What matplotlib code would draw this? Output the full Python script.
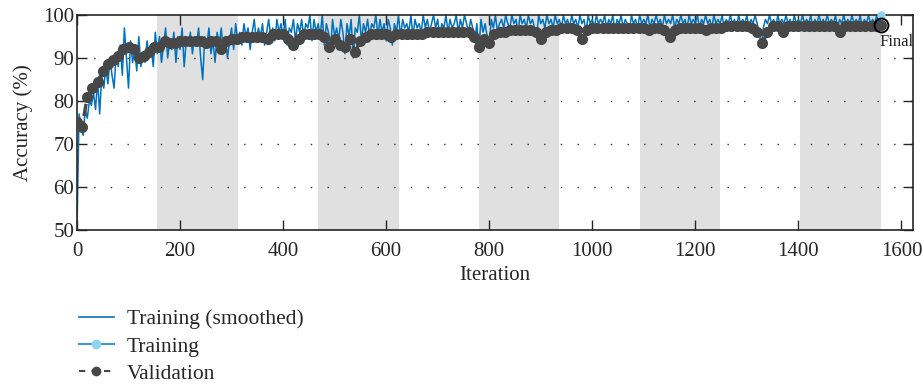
import numpy as np
import matplotlib
matplotlib.use("Agg")
import matplotlib.pyplot as plt
from matplotlib.lines import Line2D

plt.rcParams['font.family'] = ['Liberation Serif', 'DejaVu Serif']

# training accuracy, every 4 iterations (0..1560)
train_step = 4
train_acc = [
    50, 77, 74, 72, 78, 76, 80, 79, 82, 78,
    85, 77, 86, 83, 88, 84, 90, 86, 83, 91,
    88, 93, 86, 97, 90, 83, 94, 89, 92, 87,
    95, 88, 91, 89, 94, 90, 93, 88, 96, 91,
    95, 89, 93, 97, 90, 94, 92, 96, 89, 95,
    92, 97, 88, 94, 93, 96, 91, 95, 93, 97,
    90, 85, 95, 93, 97, 91, 94, 89, 96, 93,
    97, 91, 95, 90, 94, 97, 92, 98, 94, 96,
    93, 98, 95, 97, 92, 96, 99, 94, 97, 95,
    98, 93, 96, 99, 95, 97, 94, 99, 96, 98,
    95, 99, 93, 97, 96, 99, 94, 98, 96, 99,
    95, 98, 97, 100, 94, 99, 96, 98, 95, 100,
    93, 98, 96, 92, 99, 95, 97, 94, 99, 96,
    91, 98, 95, 99, 90, 97, 96, 100, 94, 98,
    96, 99, 95, 98, 97, 100, 95, 99, 96, 98,
    94, 99, 97, 93, 98, 96, 100, 95, 99, 97,
    98, 96, 100, 95, 99, 97, 98, 96, 100, 97,
    99, 96, 98, 100, 97, 99, 95, 98, 97, 100,
    96, 99, 97, 98, 100, 96, 99, 97, 100, 98,
    96, 99, 97, 94, 98, 92, 99, 96, 98, 95,
    93, 99, 97, 100, 96, 98, 99, 97, 100, 98,
    97, 100, 98, 99, 96, 100, 98, 99, 97, 100,
    98, 99, 97, 95, 100, 98, 99, 97, 100, 98,
    99, 97, 100, 98, 99, 97, 100, 98, 99, 97,
    100, 98, 99, 97, 100, 98, 99, 96, 100, 98,
    99, 97, 100, 98, 99, 98, 100, 97, 99, 98,
    100, 96, 99, 98, 100, 97, 99, 98, 96, 100,
    98, 99, 97, 100, 98, 99, 98, 100, 97, 99,
    98, 100, 98, 99, 97, 100, 98, 99, 98, 100,
    97, 99, 98, 100, 98, 99, 97, 100, 98, 99,
    98, 100, 97, 99, 98, 100, 98, 99, 97, 100,
    98, 99, 98, 100, 97, 99, 98, 100, 98, 99,
    97, 100, 98, 99, 98, 100, 97, 99, 98, 100,
    98, 96, 93, 97, 99, 98, 100, 98, 99, 97,
    100, 98, 99, 98, 100, 98, 99, 97, 100, 98,
    99, 98, 100, 98, 99, 98, 100, 97, 99, 98,
    100, 98, 99, 98, 100, 98, 99, 98, 100, 97,
    99, 98, 100, 98, 99, 98, 100, 98, 99, 98,
    100, 97, 99, 98, 100, 98, 99, 98, 100, 98,
    100,
]

# validation accuracy, every 10 iterations (0..1560)
val_step = 10
val_acc = [
    75, 74, 81, 83, 84.5, 87, 88.5, 89.5, 90.5, 92,
    92.5, 92, 90, 90.5, 91.5, 92.5, 92.5, 94, 93.5, 93.5,
    94, 94, 94, 94, 94, 93.5, 94, 94, 92, 94,
    94.5, 94.5, 95, 95, 95, 95, 95, 94.5, 95.5, 95.5,
    95.5, 94.5, 93, 94.5, 95.5, 95.5, 95.5, 95.5, 95, 92.5,
    94.5, 93, 92.5, 94.5, 91.5, 94, 95, 95.5, 95.5, 95.5,
    95.5, 95, 95.5, 95.5, 95.5, 95.5, 95.5, 95.5, 96, 96,
    96, 96, 96, 96, 96, 96, 96, 95, 92.5, 94.5,
    93.5, 95.5, 96, 96, 96.5, 96.5, 96.5, 96.5, 96.5, 96,
    94.5, 96, 96.5, 96.5, 97, 97, 97, 96.5, 94.5, 96.5,
    97, 97, 97, 97, 97, 97, 97, 97, 97, 97,
    97, 96.5, 97, 97, 96.5, 95, 96.5, 97, 97, 97,
    97, 97, 96.5, 97, 97, 97, 97.5, 97.5, 97.5, 97.5,
    97.5, 97, 96, 93.5, 96, 97.5, 97.5, 96, 97.5, 97.5,
    97.5, 97.5, 97.5, 97.5, 97.5, 97.5, 97.5, 97.5, 96, 97.5,
    97.5, 97.5, 97.5, 97.5, 97.5, 97.5, 97.7,
]

iters_per_epoch = 156
n_epochs = 10

train_x = np.arange(len(train_acc)) * train_step
val_x = np.arange(len(val_acc)) * val_step

blue = '#0072BD'
light_blue = '#8ED3F0'
dark = '#474747'
txt = '#262626'

fig = plt.figure(figsize=(9.22, 3.87), dpi=100)
ax = fig.add_axes([0.0835, 0.406, 0.9065, 0.555])

# alternate epochs shaded
for k in range(1, n_epochs, 2):
    ax.axvspan(k * iters_per_epoch, (k + 1) * iters_per_epoch, color='#E0E0E0', lw=0, zorder=0)

for yv in [60, 70, 80, 90]:
    ax.axhline(yv, color='#333333', lw=1.0, ls=(0, (1, 11)), zorder=1)

ax.plot(train_x, train_acc, color=blue, lw=1.1, zorder=2)
ax.plot(val_x, val_acc, color=dark, lw=2.4, ls='--', marker='o', ms=8,
        markeredgewidth=0, zorder=3)

# final points
ax.plot(train_x[-1], train_acc[-1], 'o', color=light_blue, ms=6, mec='none', zorder=4, clip_on=False)
ax.plot(val_x[-1], val_acc[-1], 'o', mfc='none', mec='black', ms=10, mew=1.4, zorder=5)
ax.text(val_x[-1] - 3, 93.8, 'Final', fontsize=12, color=txt, ha='left', va='center')

ax.set_xlim(0, 1622)
ax.set_ylim(50, 100)
ax.set_xticks(np.arange(0, 1601, 200))
ax.set_yticks(np.arange(50, 101, 10))
ax.tick_params(direction='in', length=7, width=1, top=True, right=True,
               labelsize=15, colors=txt)
ax.tick_params(axis='x', pad=9)
ax.tick_params(axis='y', pad=2)
for s in ax.spines.values():
    s.set_color(txt)
    s.set_linewidth(1.2)
ax.set_xlabel('Iteration', fontsize=15, color=txt, labelpad=3)
ax.set_ylabel('Accuracy (%)', fontsize=15, color=txt, labelpad=7)

handles = [
    Line2D([], [], color=blue, lw=1.2),
    Line2D([], [], color='#3A9AD9', lw=1.5, marker='o', ms=7, mfc=light_blue, mec='none'),
    Line2D([], [], color=dark, lw=1.5, ls='--', dashes=(3, 3), marker='o', ms=7, mec='none'),
]
labels = ['Training (smoothed)', 'Training', 'Validation']
fig.legend(handles, labels, loc='upper left', bbox_to_anchor=(0.076, 0.223),
           frameon=False, fontsize=15.5, handlelength=1.65, handletextpad=0.6,
           labelspacing=0.33, borderaxespad=0, labelcolor=txt)

fig.savefig('out.png', dpi=100)
